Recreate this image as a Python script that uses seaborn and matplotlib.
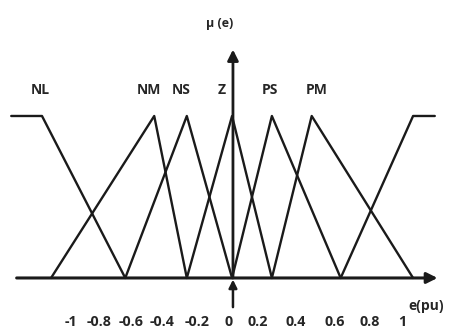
import matplotlib
matplotlib.use("Agg")
import matplotlib.pyplot as plt
import seaborn as sns
import pandas as pd

# Fuzzy membership functions of the error e (per unit): breakpoints and degrees
set_names = ["NL", "NM", "NS", "Z", "PS", "PM", "PB"]
set_e = [
    [-1.22, -1.05, -0.59],
    [-1.00, -0.43, -0.25],
    [-0.59, -0.25, 0.00],
    [-0.25, 0.00, 0.22],
    [0.00, 0.22, 0.60],
    [0.22, 0.44, 1.00],
    [0.60, 1.00, 1.12],
]
set_mu = [
    [1, 1, 0],
    [0, 1, 0],
    [0, 1, 0],
    [0, 1, 0],
    [0, 1, 0],
    [0, 1, 0],
    [0, 1, 1],
]
# Set names written above the peaks (PB has no label)
label_names = ["NL", "NM", "NS", "Z", "PS", "PM"]
label_e = [-1.06, -0.46, -0.28, -0.06, 0.21, 0.47]

# Tick labels under the universe of discourse
tick_text = ["-1", "-0.8", "-0.6", "-0.4", "-0.2", "0", "0.2", "0.4", "0.6", "0.8", "1"]
tick_e = [-0.89, -0.735, -0.56, -0.385, -0.195, -0.02, 0.14, 0.35, 0.57, 0.76, 0.94]

rows = []
for name, es, ms in zip(set_names, set_e, set_mu):
    for e, m in zip(es, ms):
        rows.append({"set": name, "e": e, "mu": m})
df = pd.DataFrame(rows)

sns.set_theme(style="white")
plt.rcParams["font.family"] = ["Open Sans", "DejaVu Sans"]

fig = plt.figure(figsize=(4.5, 3.29), dpi=100)
ax = fig.add_axes([0, 0, 1, 1])

sns.lineplot(data=df, x="e", y="mu", hue="set", palette=["#1a1a1a"] * len(set_names),
             sort=False, estimator=None, legend=False, linewidth=1.7, ax=ax)

ink = "#1a1a1a"
# horizontal e axis with arrow
ax.annotate("", xy=(1.135, 0), xytext=(-1.19, 0),
            arrowprops=dict(arrowstyle="-|>", color=ink, lw=2.2, mutation_scale=16,
                            shrinkA=0, shrinkB=0))
# vertical mu axis with arrow
ax.annotate("", xy=(0.005, 1.41), xytext=(0.005, 0),
            arrowprops=dict(arrowstyle="-|>", color=ink, lw=2.0, mutation_scale=16,
                            shrinkA=0, shrinkB=0))
# small arrow marking the origin
ax.annotate("", xy=(0.005, -0.01), xytext=(0.005, -0.18),
            arrowprops=dict(arrowstyle="-|>", color=ink, lw=1.8, mutation_scale=12,
                            shrinkA=0, shrinkB=0))

txt = dict(ha="center", va="center", fontweight="bold", color="#262626")
for name, e in zip(label_names, label_e):
    ax.text(e, 1.16, name, fontsize=10, **txt)

for t, e in zip(tick_text, tick_e):
    ax.text(e, -0.27, t, fontsize=10.3, **txt)

ax.text(-0.07, 1.57, "μ (e)", fontsize=9, **txt)
ax.text(1.07, -0.17, "e(pu)", fontsize=10, **txt)

ax.set_xlim(-1.282, 1.204)
ax.set_ylim(-0.315, 1.716)
ax.axis("off")

fig.savefig("out.png", dpi=100, facecolor="white")
